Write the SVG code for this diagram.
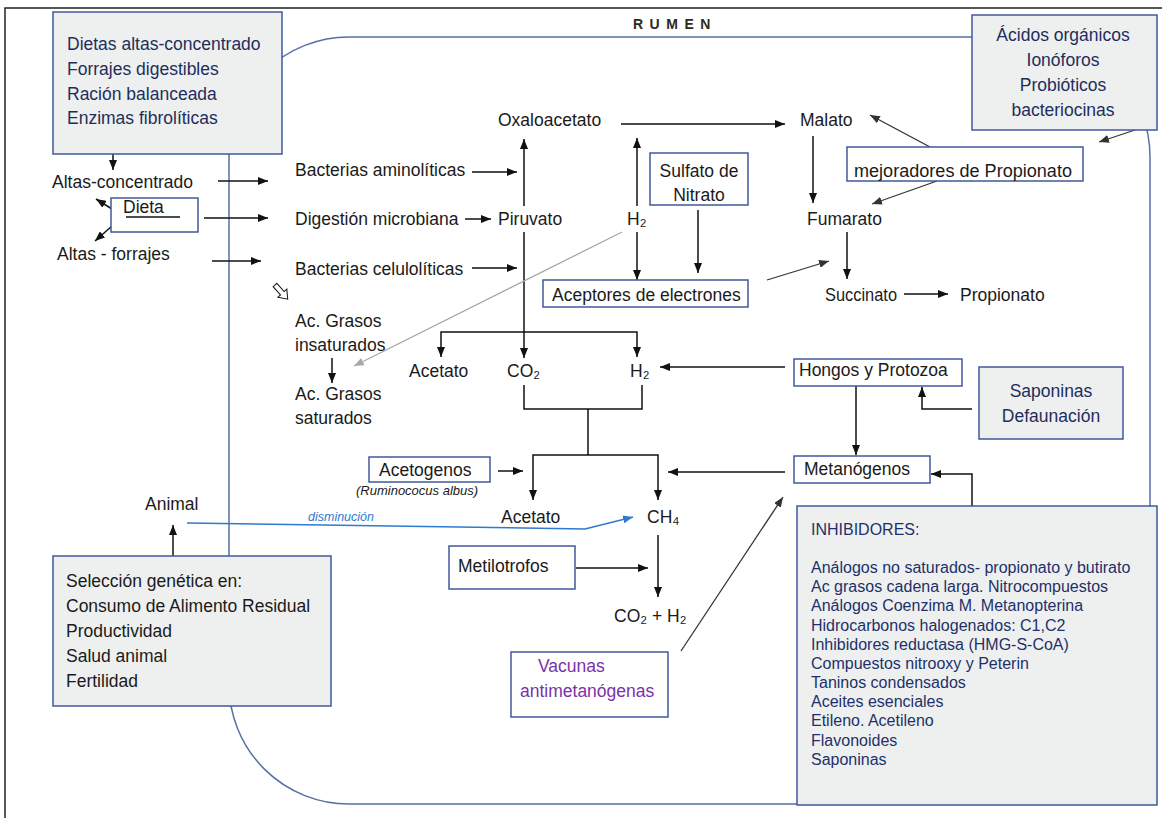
<svg xmlns="http://www.w3.org/2000/svg" width="1162" height="818" viewBox="0 0 1162 818">
<style>
.t{font-family:"Liberation Sans",Arial,sans-serif;font-size:17.5px;fill:#1a1a1a}
.n{fill:#1f2d5c}
.c{text-anchor:middle}
.inh{font-family:"Liberation Sans",Arial,sans-serif;font-size:16px;fill:#22306a}
.bx{fill:#ffffff;stroke:#41599a;stroke-width:1.5}
.gb{fill:#eef0f0;stroke:#41599a;stroke-width:1.5}
.ln{fill:none;stroke:#111;stroke-width:1.5}
.ar{fill:none;stroke:#111;stroke-width:1.5;marker-end:url(#a)}
</style>
<defs>
<marker id="a" viewBox="0 0 10 8" refX="10" refY="4" markerWidth="10" markerHeight="8" markerUnits="userSpaceOnUse" orient="auto"><path d="M0,0L10,4L0,8z" fill="#111"/></marker>
<marker id="g" viewBox="0 0 10 8" refX="10" refY="4" markerWidth="10" markerHeight="8" markerUnits="userSpaceOnUse" orient="auto"><path d="M0,0L10,4L0,8z" fill="#a8a8a8"/></marker>
<marker id="b" viewBox="0 0 10 8" refX="10" refY="4" markerWidth="10" markerHeight="8" markerUnits="userSpaceOnUse" orient="auto"><path d="M0,0L10,4L0,8z" fill="#2f7ad0"/></marker>
<marker id="d" viewBox="0 0 10 8" refX="10" refY="4" markerWidth="10" markerHeight="8" markerUnits="userSpaceOnUse" orient="auto"><path d="M0,0L10,4L0,8z" fill="#333"/></marker>
</defs>
<rect width="1162" height="818" fill="#ffffff"/>
<path d="M5,818V8H1162" fill="none" stroke="#222" stroke-width="1.5"/>
<g id="rumen">
<rect x="229" y="37" width="921" height="767" rx="120" fill="none" stroke="#5870a8" stroke-width="1.5"/>
<text x="633" y="29" style="font-family:'Liberation Sans',Arial,sans-serif;font-size:14px;font-weight:bold;letter-spacing:6.5px;fill:#2e2a1e">RUMEN</text>
</g>
<g id="connectors">
<path class="ar" d="M113,154V170"/>
<path class="ar" d="M218,181H268"/>
<path class="ar" d="M112,209L96,199"/>
<path class="ar" d="M112,226L95,241"/>
<path class="ar" d="M204,218H268"/>
<path class="ar" d="M212,261H261"/>
<path class="ar" d="M472,172H517"/>
<path class="ar" d="M465,219H491"/>
<path class="ar" d="M472,268H517"/>
<path class="ar" d="M524,206V139"/>
<path class="ar" d="M524,232V358"/>
<path class="ar" d="M621,124H785"/>
<path class="ar" d="M637,206V138"/>
<path class="ar" d="M637,232V280"/>
<path class="ar" d="M698,210V273"/>
<path d="M767,280L829,261" fill="none" stroke="#333" stroke-width="1.3" marker-end="url(#d)"/>
<path d="M622,232L354,366" fill="none" stroke="#a8a8a8" stroke-width="1.3" marker-end="url(#g)"/>
<path class="ar" d="M813,136V203"/>
<path class="ar" d="M847,232V279"/>
<path class="ar" d="M904,294H948"/>
<path d="M930,147L870,115" fill="none" stroke="#333" stroke-width="1.3" marker-end="url(#d)"/>
<path d="M937,181L872,204" fill="none" stroke="#333" stroke-width="1.3" marker-end="url(#d)"/>
<path d="M1135,130L1099,142" fill="none" stroke="#333" stroke-width="1.3" marker-end="url(#d)"/>
<path class="ar" d="M332,358V383"/>
<path class="ar" d="M524,332H441V357"/>
<path class="ar" d="M524,332H637V357"/>
<path class="ar" d="M785,367H660"/>
<path class="ln" d="M524,385V409H642V385M588,409V455"/>
<path class="ar" d="M588,455H533V500"/>
<path class="ar" d="M588,455H658V500"/>
<path class="ar" d="M498,471H523"/>
<path class="ar" d="M785,472H668"/>
<path class="ar" d="M856,386V455"/>
<path class="ar" d="M972,409H922V387"/>
<path class="ar" d="M972,506V474H931"/>
<path d="M681,651L783,497" fill="none" stroke="#333" stroke-width="1.3" marker-end="url(#d)"/>
<path class="ar" d="M658,535V597"/>
<path class="ar" d="M576,568H648"/>
<path class="ar" d="M173,556V525"/>
<path d="M187,523L585,529L633,517" fill="none" stroke="#2f7ad0" stroke-width="1.5" marker-end="url(#b)"/>
<polygon points="0,-2.5 11,-2.5 11,-6 19,0 11,6 11,2.5 0,2.5" transform="translate(275,285) rotate(48)" fill="#fff" stroke="#111" stroke-width="1"/>
</g>
<g id="dietas">
<rect class="gb" x="53" y="12" width="229" height="142"/>
<text class="t n" x="67" y="50">Dietas altas-concentrado</text>
<text class="t n" x="67" y="75">Forrajes digestibles</text>
<text class="t n" x="67" y="100">Ración balanceada</text>
<text class="t n" x="67" y="124">Enzimas fibrolíticas</text>
</g>
<g id="altas-concentrado"><text class="t" x="52" y="188">Altas-concentrado</text></g>
<g id="dieta">
<rect class="bx" x="111" y="198" width="87" height="34"/>
<text class="t" x="123" y="213">Dieta</text>
<path d="M126,217H180" stroke="#111" stroke-width="1.3"/>
</g>
<g id="altas-forrajes"><text class="t" x="57" y="260">Altas - forrajes</text></g>
<g id="bact-amino"><text class="t" x="295" y="176">Bacterias aminolíticas</text></g>
<g id="digestion"><text class="t" x="295" y="225">Digestión microbiana</text></g>
<g id="bact-celu"><text class="t" x="295" y="275">Bacterias celulolíticas</text></g>
<g id="oxaloacetato"><text class="t" x="498" y="126">Oxaloacetato</text></g>
<g id="piruvato"><text class="t" x="498" y="225">Piruvato</text></g>
<g id="h2-top"><text class="t" x="627" y="225">H₂</text></g>
<g id="sulfato">
<rect class="bx" x="650" y="153" width="98" height="52"/>
<text class="t c" x="699" y="177">Sulfato de</text>
<text class="t c" x="699" y="201">Nitrato</text>
</g>
<g id="aceptores">
<rect class="bx" x="543" y="280" width="205" height="27"/>
<text class="t" x="552" y="301">Aceptores de electrones</text>
</g>
<g id="malato"><text class="t" x="800" y="126">Malato</text></g>
<g id="fumarato"><text class="t" x="807" y="225">Fumarato</text></g>
<g id="succinato"><text class="t" x="825" y="301" textLength="72" lengthAdjust="spacingAndGlyphs">Succinato</text></g>
<g id="propionato"><text class="t" x="960" y="301">Propionato</text></g>
<g id="mejoradores">
<rect class="bx" x="847" y="147" width="236" height="34"/>
<text class="t" x="854" y="177" textLength="218" lengthAdjust="spacingAndGlyphs">mejoradores de Propionato</text>
</g>
<g id="acidos">
<rect class="gb" x="972" y="15" width="185" height="115"/>
<text class="t n c" x="1063" y="41">Ácidos orgánicos</text>
<text class="t n c" x="1063" y="66">Ionóforos</text>
<text class="t n c" x="1063" y="91">Probióticos</text>
<text class="t n c" x="1063" y="116">bacteriocinas</text>
</g>
<g id="ac-insat">
<text class="t" x="295" y="327">Ac. Grasos</text>
<text class="t" x="295" y="351">insaturados</text>
</g>
<g id="ac-sat">
<text class="t" x="295" y="400">Ac. Grasos</text>
<text class="t" x="295" y="424">saturados</text>
</g>
<g id="acetato1"><text class="t" x="409" y="377">Acetato</text></g>
<g id="co2"><text class="t" x="507" y="377">CO₂</text></g>
<g id="h2-mid"><text class="t" x="630" y="377">H₂</text></g>
<g id="hongos">
<rect class="bx" x="794" y="359" width="168" height="27"/>
<text class="t" x="799" y="376">Hongos y Protozoa</text>
</g>
<g id="saponinas">
<rect class="gb" x="979" y="367" width="144" height="72"/>
<text class="t n c" x="1051" y="397">Saponinas</text>
<text class="t n c" x="1051" y="422">Defaunación</text>
</g>
<g id="acetogenos">
<rect class="bx" x="369" y="457" width="121" height="25"/>
<text class="t" x="379" y="476">Acetogenos</text>
<text x="356" y="495" style="font-family:'Liberation Sans',Arial,sans-serif;font-size:13px;font-style:italic;fill:#1a1a1a">(Ruminococus albus)</text>
</g>
<g id="metanogenos">
<rect class="bx" x="794" y="456" width="136" height="27"/>
<text class="t" x="804" y="475">Metanógenos</text>
</g>
<g id="animal"><text class="t" x="145" y="510">Animal</text></g>
<g id="disminucion"><text x="308" y="521" style="font-family:'Liberation Sans',Arial,sans-serif;font-size:12.5px;font-style:italic;fill:#2f7ad0">disminución</text></g>
<g id="acetato2"><text class="t" x="501" y="523">Acetato</text></g>
<g id="ch4"><text class="t" x="647" y="523">CH₄</text></g>
<g id="metilotrofos">
<rect class="bx" x="449" y="546" width="126" height="43"/>
<text class="t" x="458" y="572">Metilotrofos</text>
</g>
<g id="co2h2"><text class="t" x="614" y="622">CO₂ + H₂</text></g>
<g id="vacunas">
<rect class="bx" x="511" y="652" width="157" height="65"/>
<text class="t" x="538" y="672" style="fill:#7a32a8">Vacunas</text>
<text class="t" x="520" y="697" style="fill:#7a32a8">antimetanógenas</text>
</g>
<g id="seleccion">
<rect class="gb" x="53" y="556" width="278" height="150"/>
<text class="t" x="66" y="587">Selección genética en:</text>
<text class="t" x="66" y="612">Consumo de Alimento Residual</text>
<text class="t" x="66" y="637">Productividad</text>
<text class="t" x="66" y="662">Salud animal</text>
<text class="t" x="66" y="687">Fertilidad</text>
</g>
<g id="inhibidores">
<rect class="gb" x="797" y="506" width="360" height="299"/>
<text class="inh" x="811" y="535">INHIBIDORES:</text>
<text class="inh" x="811" y="573">Análogos no saturados- propionato y butirato</text>
<text class="inh" x="811" y="592">Ac grasos cadena larga. Nitrocompuestos</text>
<text class="inh" x="811" y="611">Análogos Coenzima M. Metanopterina</text>
<text class="inh" x="811" y="631">Hidrocarbonos halogenados: C1,C2</text>
<text class="inh" x="811" y="650">Inhibidores reductasa (HMG-S-CoA)</text>
<text class="inh" x="811" y="669">Compuestos nitrooxy y Peterin</text>
<text class="inh" x="811" y="688">Taninos condensados</text>
<text class="inh" x="811" y="707">Aceites esenciales</text>
<text class="inh" x="811" y="726">Etileno. Acetileno</text>
<text class="inh" x="811" y="746">Flavonoides</text>
<text class="inh" x="811" y="765">Saponinas</text>
</g>
</svg>
